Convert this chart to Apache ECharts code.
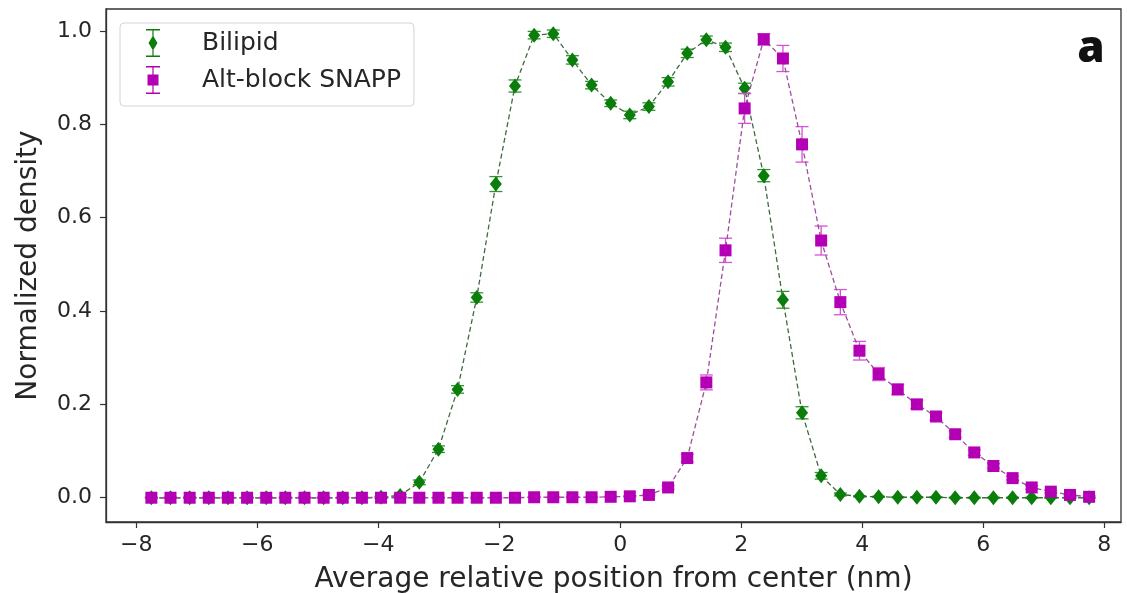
<!DOCTYPE html>
<html>
<head>
<meta charset="utf-8">
<style>
  html, body { margin: 0; padding: 0; background: #fff; }
  #chart { width: 1127px; height: 593px; }
</style>
<script src="https://cdn.jsdelivr.net/npm/echarts@6/dist/echarts.min.js"></script>
</head>
<body>
<div id="chart"></div>
<script>
// Bin centres (nm) of the density profile across the membrane
const positions = [
  -7.750, -7.434, -7.117, -6.801, -6.485, -6.168, -5.852, -5.536, -5.219, -4.903,
  -4.587, -4.270, -3.954, -3.638, -3.321, -3.005, -2.689, -2.372, -2.056, -1.740,
  -1.423, -1.107, -0.791, -0.474, -0.158, 0.158, 0.474, 0.791, 1.107, 1.423,
  1.740, 2.056, 2.372, 2.689, 3.005, 3.321, 3.638, 3.954, 4.270, 4.587,
  4.903, 5.219, 5.536, 5.852, 6.168, 6.485, 6.801, 7.117, 7.434, 7.750
];

// Bilipid normalized density and its standard error
const bilipidDensity = [
  0, 0, 0, 0, 0, 0, 0, 0, 0, 0,
  0, 0, 0.001, 0.005, 0.033, 0.104, 0.232, 0.429, 0.672, 0.882,
  0.991, 0.994, 0.938, 0.884, 0.845, 0.820, 0.838, 0.891, 0.952, 0.981,
  0.965, 0.877, 0.690, 0.424, 0.182, 0.047, 0.007, 0.003, 0.002, 0.001,
  0.001, 0.001, 0, 0, 0, 0, 0, 0, 0, 0
];
const bilipidError = [
  0.001, 0.001, 0.001, 0.001, 0.001, 0.001, 0.001, 0.001, 0.001, 0.001,
  0.001, 0.001, 0.002, 0.002, 0.005, 0.007, 0.008, 0.010, 0.016, 0.013,
  0.008, 0.008, 0.009, 0.008, 0.007, 0.008, 0.008, 0.009, 0.009, 0.008,
  0.009, 0.011, 0.013, 0.018, 0.013, 0.007, 0.003, 0.001, 0.001, 0.001,
  0.001, 0.001, 0.001, 0.001, 0.001, 0.001, 0.001, 0.001, 0.001, 0.001
];

// Alt-block SNAPP normalized density and its standard error
const snappDensity = [
  0, 0, 0, 0, 0, 0, 0, 0, 0, 0,
  0, 0, 0, 0, 0, 0, 0, 0, 0, 0,
  0.001, 0.001, 0.001, 0.001, 0.002, 0.003, 0.006, 0.022, 0.085, 0.247,
  0.530, 0.834, 0.982, 0.941, 0.757, 0.551, 0.419, 0.315, 0.265, 0.232,
  0.200, 0.174, 0.136, 0.097, 0.068, 0.042, 0.022, 0.013, 0.006, 0.002
];
const snappError = [
  0.001, 0.001, 0.001, 0.001, 0.001, 0.001, 0.001, 0.001, 0.001, 0.001,
  0.001, 0.001, 0.001, 0.001, 0.001, 0.001, 0.001, 0.001, 0.001, 0.001,
  0.001, 0.001, 0.001, 0.001, 0.001, 0.001, 0.002, 0.004, 0.008, 0.016,
  0.026, 0.032, 0.012, 0.028, 0.038, 0.031, 0.027, 0.020, 0.014, 0.011,
  0.009, 0.008, 0.007, 0.006, 0.005, 0.004, 0.004, 0.003, 0.002, 0.002
];

const xTicks = [-8, -6, -4, -2, 0, 2, 4, 6, 8];
const yTicks = [0, 0.2, 0.4, 0.6, 0.8, 1.0];

const seriesNames = ['Bilipid', 'Alt-block SNAPP'];
const GREEN = '#0b7d0b';
const GREEN_LINE = '#3f6a3f';
const GREEN_ERR = '#2a962a';
const MAGENTA = '#b400b4';
const MAGENTA_LINE = '#9a4f9a';
const MAGENTA_ERR = '#d452d4';

const FONT = '"DejaVu Sans", sans-serif';
const TEXT = '#262626';

// legend icons: marker with its error bar and caps
const diamondIcon = 'path://M0 0H14V1.5H0Z M0 26.5H14V28H0Z M6.4 0H7.6V28H6.4Z M7 6.5L11.5 14L7 21.5L2.5 14Z';
const squareIcon = 'path://M0 0H14V1.5H0Z M0 26.5H14V28H0Z M6.4 0H7.6V28H6.4Z M1.5 8.5H12.5V19.5H1.5Z';

function pairs(ys) { return positions.map((x, i) => [x, ys[i]]); }
function bars(ys, es) { return positions.map((x, i) => [x, ys[i] - es[i], ys[i] + es[i]]); }

function errorBarRenderer(color) {
  return function (params, api) {
    const x = api.value(0);
    const lo = api.coord([x, api.value(1)]);
    const hi = api.coord([x, api.value(2)]);
    const half = 6.5;
    const style = { stroke: color, lineWidth: 1.3 };
    return {
      type: 'group',
      children: [
        { type: 'line', shape: { x1: lo[0], y1: lo[1], x2: hi[0], y2: hi[1] }, style },
        { type: 'line', shape: { x1: lo[0] - half, y1: lo[1], x2: lo[0] + half, y2: lo[1] }, style },
        { type: 'line', shape: { x1: hi[0] - half, y1: hi[1], x2: hi[0] + half, y2: hi[1] }, style }
      ]
    };
  };
}

const minus = v => (v < 0 ? '\u2212' + Math.abs(v) : String(v));

const chart = echarts.init(document.getElementById('chart'), null, { renderer: 'canvas' });

chart.setOption({
  backgroundColor: '#ffffff',
  animation: false,
  grid: {
    left: 106, top: 9, right: 6, bottom: 71,
    outerBoundsMode: 'none',
    containLabel: false,
    show: true, borderColor: '#333', borderWidth: 1.3, backgroundColor: 'transparent'
  },
  xAxis: {
    type: 'value',
    min: -8.5, max: 8.277,
    name: 'Average relative position from center (nm)',
    nameLocation: 'middle',
    nameGap: 44,
    nameTextStyle: { fontFamily: FONT, fontSize: 28, color: TEXT },
    axisLine: { show: true, onZero: false, lineStyle: { color: '#333', width: 1.3 } },
    axisTick: { show: true, inside: false, length: 6, customValues: xTicks, lineStyle: { color: '#333', width: 1.2 } },
    axisLabel: { customValues: xTicks, margin: 12, fontFamily: FONT, fontSize: 22, color: TEXT, formatter: minus },
    splitLine: { show: false }
  },
  yAxis: {
    type: 'value',
    min: -0.052, max: 1.047,
    name: 'Normalized density',
    nameLocation: 'middle',
    nameGap: 63,
    nameTextStyle: { fontFamily: FONT, fontSize: 28, color: TEXT },
    axisLine: { show: true, onZero: false, lineStyle: { color: '#333', width: 1.3 } },
    axisTick: { show: true, inside: false, length: 6, customValues: yTicks, lineStyle: { color: '#333', width: 1.2 } },
    axisLabel: { customValues: yTicks, margin: 14, fontFamily: FONT, fontSize: 22, color: TEXT, formatter: v => v.toFixed(1) },
    splitLine: { show: false }
  },
  legend: {
    data: [
      { name: seriesNames[0], icon: diamondIcon },
      { name: seriesNames[1], icon: squareIcon }
    ],
    orient: 'vertical',
    left: 120, top: 23,
    padding: [6, 13, 12, 26],
    itemWidth: 16, itemHeight: 28, itemGap: 9,
    backgroundColor: '#ffffff',
    borderColor: '#d4d4d4', borderWidth: 1, borderRadius: 4,
    textStyle: { fontFamily: FONT, fontSize: 25, color: TEXT, padding: [0, 0, 0, 36] }
  },
  graphic: [{
    type: 'text',
    x: 1091, y: 49,
    style: {
      text: 'a',
      font: '800 44px "Open Sans", sans-serif',
      fill: '#111',
      align: 'center',
      verticalAlign: 'middle'
    },
    z: 10
  }],
  series: [
    {
      name: seriesNames[0] + ' error',
      type: 'custom',
      renderItem: errorBarRenderer(GREEN_ERR),
      data: bars(bilipidDensity, bilipidError),
      encode: { x: 0, y: [1, 2] },
      z: 1, silent: true
    },
    {
      name: seriesNames[0],
      type: 'line',
      data: pairs(bilipidDensity),
      symbol: 'diamond',
      symbolSize: [12, 15],
      showAllSymbol: true,
      color: GREEN,
      itemStyle: { color: GREEN },
      lineStyle: { color: GREEN_LINE, width: 1.3, type: [5, 3] },
      z: 2
    },
    {
      name: seriesNames[1] + ' error',
      type: 'custom',
      renderItem: errorBarRenderer(MAGENTA_ERR),
      data: bars(snappDensity, snappError),
      encode: { x: 0, y: [1, 2] },
      z: 3, silent: true
    },
    {
      name: seriesNames[1],
      type: 'line',
      data: pairs(snappDensity),
      symbol: 'rect',
      symbolSize: 12,
      showAllSymbol: true,
      color: MAGENTA,
      itemStyle: { color: MAGENTA },
      lineStyle: { color: MAGENTA_LINE, width: 1.3, type: [5, 3] },
      z: 4
    }
  ]
});
</script>
</body>
</html>
